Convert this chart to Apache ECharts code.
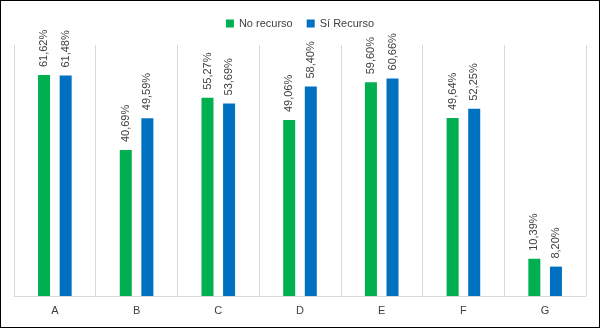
<!DOCTYPE html>
<html>
<head>
<meta charset="utf-8">
<script src="https://cdn.jsdelivr.net/npm/echarts@6/dist/echarts.min.js"></script>
<style>
  html, body { margin: 0; padding: 0; background: #fff; }
  #main { width: 600px; height: 328px; box-sizing: border-box; border: 1px solid #000; }
</style>
</head>
<body>
<div id="main"></div>
<script>
const categories = ['A', 'B', 'C', 'D', 'E', 'F', 'G'];
const noRecurso = [61.62, 40.69, 55.27, 49.06, 59.60, 49.64, 10.39];
const siRecurso = [61.48, 49.59, 53.69, 58.40, 60.66, 52.25, 8.20];
// as written on the chart (F green shows only 49,64%)
const noLabels = ['61,62%', '40,69%', '55,27%', '49,06%', '59,60%', '49,64%', '10,39%'];
const siLabels = ['61,48%', '49,59%', '53,69%', '58,40%', '60,66%', '52,25%', '8,20%'];

const font = 'Liberation Sans';
const txt = '#404040';

function barLabel(labels) {
  return {
    show: true,
    position: 'top',
    rotate: 90,
    align: 'left',
    verticalAlign: 'middle',
    distance: 8,
    color: txt,
    fontFamily: font,
    fontSize: 11,
    formatter: p => labels[p.dataIndex],
  };
}

const chart = echarts.init(document.getElementById('main'));
chart.setOption({
  animation: false,
  legend: {
    top: 12,
    left: 'center',
    itemWidth: 8,
    itemHeight: 8,
    itemGap: 14,
    icon: 'rect',
    textStyle: { color: txt, fontFamily: font, fontSize: 11 },
    data: ['No recurso', 'Sí Recurso'],
  },
  grid: { left: 13, right: 13, top: 44, bottom: 31 },
  xAxis: {
    type: 'category',
    data: categories,
    axisLine: { lineStyle: { color: '#d9d9d9' } },
    axisTick: { show: false },
    splitLine: { show: true, interval: 0, lineStyle: { color: '#d9d9d9' } },
    axisLabel: { color: txt, fontFamily: font, fontSize: 11, margin: 9 },
  },
  yAxis: {
    type: 'value',
    min: 0,
    max: 70,
    show: false,
  },
  series: [
    {
      name: 'No recurso',
      type: 'bar',
      data: noRecurso,
      barWidth: 12,
      barGap: '80%',
      itemStyle: { color: '#00B050' },
      label: barLabel(noLabels),
    },
    {
      name: 'Sí Recurso',
      type: 'bar',
      data: siRecurso,
      barWidth: 12,
      itemStyle: { color: '#0070C0' },
      label: barLabel(siLabels),
    },
  ],
});
</script>
</body>
</html>
